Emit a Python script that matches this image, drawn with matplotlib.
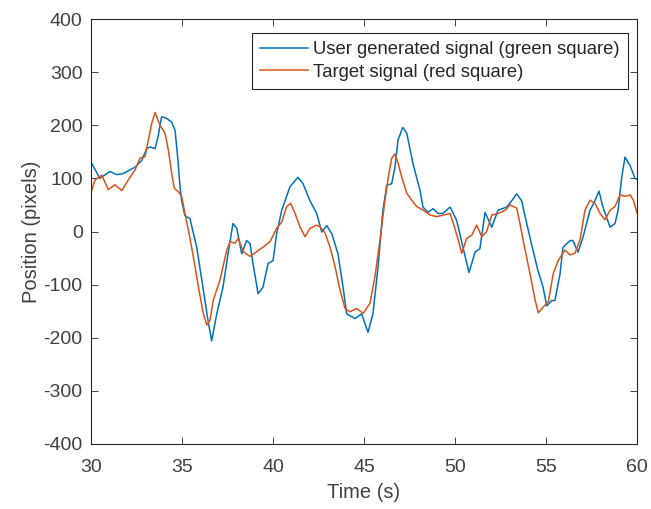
import matplotlib
matplotlib.use("Agg")
import matplotlib.pyplot as plt

# User generated signal (green square)
user_t = [30.0, 30.04, 30.49, 31.04, 31.41, 31.76, 32.42, 32.79, 33.06, 33.24, 33.52, 33.68, 33.88,
          34.16, 34.43, 34.62, 34.78, 34.89, 34.98, 35.16, 35.44, 35.81, 36.15, 36.43, 36.63,
          36.91, 37.25, 37.53, 37.80, 38.01, 38.28, 38.55, 38.74, 38.90, 39.18, 39.45, 39.73,
          40.00, 40.20, 40.48, 40.93, 41.37, 41.65, 42.03, 42.40, 42.68, 42.95, 43.23, 43.57,
          43.85, 44.05, 44.51, 44.87, 45.22, 45.49, 45.77, 46.04, 46.25, 46.52, 46.70, 46.87,
          47.13, 47.35, 47.69, 48.08, 48.24, 48.52, 48.79, 49.07, 49.34, 49.73, 50.09, 50.44,
          50.77, 51.10, 51.37, 51.65, 52.02, 52.36, 52.84, 53.12, 53.39, 53.66, 53.94, 54.29,
          54.56, 54.84, 55.04, 55.31, 55.49, 55.77, 55.93, 56.32, 56.48, 56.76, 57.03, 57.42,
          57.69, 57.91, 58.13, 58.52, 58.79, 58.96, 59.16, 59.34, 59.62, 59.89, 60.0]
user_v = [130, 128, 100, 113, 107, 109, 121, 134, 156, 159, 156, 178, 216,
          213, 206, 190, 134, 84, 58, 30, 24, -30, -105, -168, -206,
          -155, -105, -42, 15, 6, -42, -17, -23, -60, -117, -105, -60,
          -55, -4, 40, 84, 102, 90, 58, 34, -1, 11, -4, -42,
          -105, -155, -164, -155, -190, -155, -67, 40, 87, 90, 121, 172,
          196, 185, 128, 77, 46, 36, 43, 34, 34, 46, 21, -30,
          -77, -39, -32, 36, 8, 40, 46, 58, 71, 58, 15, -36,
          -74, -105, -140, -130, -130, -80, -30, -17, -17, -39, -11, 40,
          58, 76, 46, 8, 15, 40, 102, 140, 124, 100, 98]

# Target signal (red square)
target_t = [30.0, 30.04, 30.22, 30.59, 30.95, 31.32, 31.69, 32.05, 32.42, 32.69, 32.97, 33.15, 33.34,
            33.52, 33.79, 34.07, 34.25, 34.43, 34.58, 34.80, 34.98, 35.16, 35.35, 35.62, 35.90,
            36.17, 36.36, 36.54, 36.72, 37.09, 37.46, 37.64, 37.91, 38.09, 38.37, 38.74, 39.10,
            39.47, 39.84, 40.20, 40.48, 40.75, 40.97, 41.21, 41.48, 41.76, 42.03, 42.40, 42.58,
            42.86, 43.13, 43.41, 43.68, 43.96, 44.23, 44.60, 44.96, 45.33, 45.60, 45.88, 46.15,
            46.34, 46.52, 46.70, 46.88, 47.07, 47.35, 47.62, 47.90, 48.26, 48.63, 48.99, 49.36,
            49.73, 49.91, 50.18, 50.37, 50.64, 50.92, 51.19, 51.47, 51.74, 52.02, 52.38, 52.75,
            53.02, 53.39, 53.57, 53.85, 54.12, 54.40, 54.58, 54.85, 55.13, 55.40, 55.68, 56.04,
            56.32, 56.59, 56.87, 57.14, 57.42, 57.69, 57.97, 58.24, 58.52, 58.79, 59.07, 59.34,
            59.62, 59.80, 60.0]
target_v = [75, 78, 97, 106, 79, 88, 77, 97, 116, 138, 141, 172, 204,
            224, 200, 185, 153, 110, 81, 75, 66, 34, 3, -47, -104,
            -154, -176, -167, -129, -91, -35, -19, -22, -13, -38, -47, -38,
            -29, -19, 6, 18, 47, 53, 34, 9, -10, 6, 12, 9,
            -3, -29, -66, -110, -145, -151, -145, -154, -135, -85, -16, 59,
            103, 138, 146, 128, 103, 72, 59, 47, 40, 31, 28, 31,
            34, 15, -16, -41, -13, -7, 12, -10, 0, 31, 34, 40,
            50, 44, 15, -35, -79, -129, -153, -142, -132, -79, -54, -35,
            -44, -41, -16, 40, 59, 53, 34, 22, 40, 47, 69, 66,
            69, 59, 35]

x_ticks = [30, 35, 40, 45, 50, 55, 60]
y_ticks = [-400, -300, -200, -100, 0, 100, 200, 300, 400]

plt.rcParams['font.family'] = ['Liberation Sans', 'DejaVu Sans']
plt.rcParams['axes.unicode_minus'] = False

fig = plt.figure(figsize=(6.51, 5.09), dpi=100)
ax = fig.add_axes([91/651, 1 - 444/509, (637-91)/651, (444-19)/509])

ax.plot(user_t, user_v, color='#0072BD', lw=1.1, label='User generated signal (green square)')
ax.plot(target_t, target_v, color='#D95319', lw=1.1, label='Target signal (red square)')

ax.set_xlim(30, 60)
ax.set_ylim(-400, 400)
ax.set_xticks(x_ticks)
ax.set_yticks(y_ticks)
ax.tick_params(direction='in', length=5, width=0.6, top=True, right=True,
               labelsize=14, colors='#262626', labelcolor='#404040', pad=6)
ax.tick_params(axis='x', pad=11)
for s in ax.spines.values():
    s.set_linewidth(0.8)
    s.set_color('#262626')

ax.set_xlabel('Time (s)', fontsize=14.5, color='#404040', labelpad=5)
ax.set_ylabel('Position (pixels)', fontsize=14.5, color='#404040', labelpad=2)

leg = ax.legend(loc='upper right', bbox_to_anchor=(0.9835, 0.967), fontsize=13.3,
                handlelength=2.55, handletextpad=0.3, borderpad=0.45, labelspacing=0.3,
                borderaxespad=0, fancybox=False, framealpha=1)
leg.get_frame().set_edgecolor('#262626')
leg.get_frame().set_linewidth(0.8)
for t in leg.get_texts():
    t.set_color('#262626')

fig.savefig('out.png', dpi=100)
